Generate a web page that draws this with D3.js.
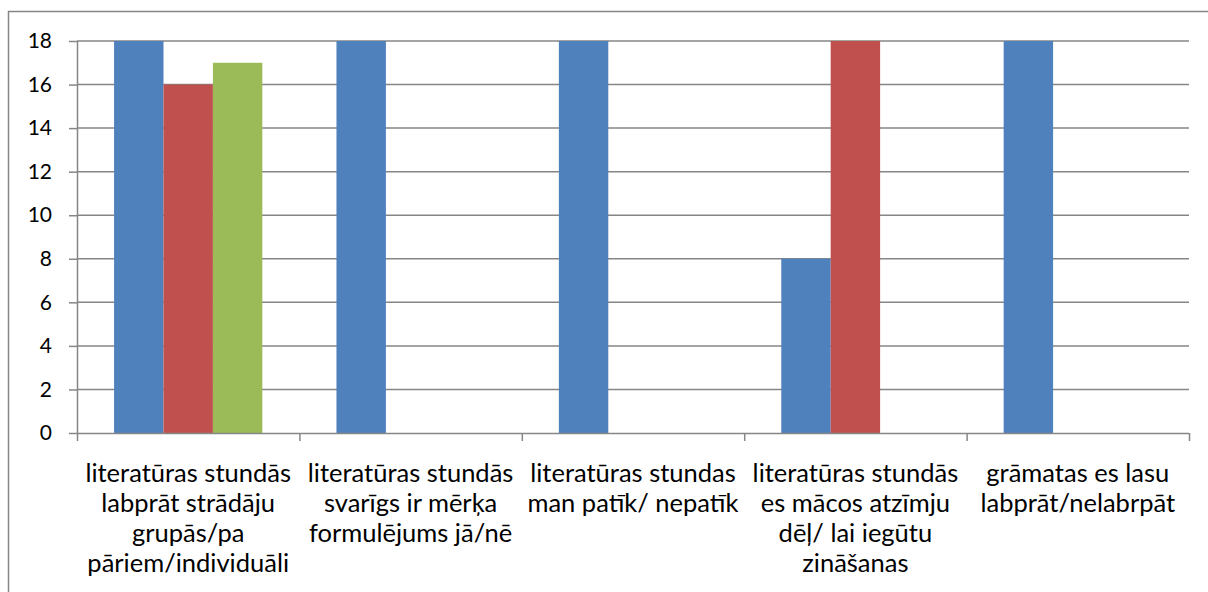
<!DOCTYPE html>
<html>
<head>
<meta charset="utf-8">
<script src="https://d3js.org/d3.v7.min.js"></script>
<style>
  body { margin: 0; background: #fff; }
  svg { display: block; }
  .tick text { font-family: Lato, "Noto Sans", sans-serif; fill: #000; }
  .cat { font-family: Lato, "Noto Sans", sans-serif; font-size: 25.5px; fill: #000; }
</style>
</head>
<body>
<div id="chart"></div>
<script>
  // data
  var categories = [
    ["literatūras stundās", "labprāt strādāju", "grupās/pa", "pāriem/individuāli"],
    ["literatūras stundās", "svarīgs ir mērķa", "formulējums jā/nē"],
    ["literatūras stundas", "man patīk/ nepatīk"],
    ["literatūras stundās", "es mācos atzīmju", "dēļ/ lai iegūtu", "zināšanas"],
    ["grāmatas es lasu", "labprāt/nelabrpāt"]
  ];
  var series1 = [18, 18, 18, 8, 18];
  var series2 = [16, 0, 0, 18, 0];
  var series3 = [17, 0, 0, 0, 0];
  var seriesColors = ["#4F81BD", "#C0504D", "#9BBB59"];
  var yTicks = [0, 2, 4, 6, 8, 10, 12, 14, 16, 18];

  var W = 1208, H = 592;
  var margin = { top: 41, right: 19, bottom: 159, left: 77 };
  var width = W - margin.left - margin.right;
  var height = H - margin.top - margin.bottom;

  var svg = d3.select("#chart").append("svg")
    .attr("width", W).attr("height", H);

  // outer chart border (cut by the window on right and bottom)
  svg.append("path")
    .attr("d", "M8.5," + H + "V11.5H" + W)
    .attr("fill", "none").attr("stroke", "#868686").attr("stroke-width", 1.5);

  var g = svg.append("g").attr("transform", "translate(" + margin.left + "," + margin.top + ")");

  var idx = d3.range(categories.length);
  var x0 = d3.scaleBand().domain(idx).range([0, width]).paddingInner(0).paddingOuter(0);
  var x1 = d3.scaleBand().domain([0, 1, 2])
    .range([x0.bandwidth() * 1.5 / 9, x0.bandwidth() * 7.5 / 9]);
  var y = d3.scaleLinear().domain([0, 18]).range([height, 0]);

  // gridlines
  g.append("g").selectAll("line").data(yTicks.slice(1)).join("line")
    .attr("x1", 0).attr("x2", width)
    .attr("y1", function(d) { return y(d); }).attr("y2", function(d) { return y(d); })
    .attr("stroke", "#868686").attr("stroke-width", 1.5);

  // bars
  var allSeries = [series1, series2, series3];
  g.append("defs").append("clipPath").attr("id", "plot")
    .append("rect").attr("width", width).attr("height", height);
  var bars = g.append("g").attr("clip-path", "url(#plot)");
  allSeries.forEach(function(s, si) {
    bars.selectAll(".s" + si).data(s).join("rect")
      .attr("class", "s" + si)
      .attr("x", function(d, i) { return x0(i) + x1(si); })
      .attr("width", x1.bandwidth())
      .attr("y", function(d) { return y(d); })
      .attr("height", function(d) { return height - y(d); })
      .attr("fill", seriesColors[si]);
  });

  // y axis
  var yAxis = d3.axisLeft(y).tickValues(yTicks).tickSize(8).tickPadding(17);
  var gy = g.append("g").call(yAxis);
  gy.select(".domain").attr("stroke", "#868686").attr("stroke-width", 1.5).attr("d", "M0.5," + height + "V0");
  gy.selectAll(".tick line").attr("stroke", "#868686").attr("stroke-width", 1.5);
  gy.selectAll(".tick text").attr("font-size", "21px");

  // x axis baseline and category separators
  var xAxis = d3.axisBottom(d3.scaleLinear().domain([0, categories.length]).range([0, width]))
    .tickValues(d3.range(categories.length + 1)).tickSize(8).tickFormat("");
  var gx = g.append("g").attr("transform", "translate(0," + height + ")").call(xAxis);
  gx.select(".domain").attr("stroke", "#868686").attr("stroke-width", 1.5).attr("d", "M0," + 0.5 + "H" + width);
  gx.selectAll(".tick line").attr("stroke", "#868686").attr("stroke-width", 1.5);

  // category labels
  idx.forEach(function(i) {
    var t = g.append("text").attr("class", "cat")
      .attr("text-anchor", "middle")
      .attr("x", x0(i) + x0.bandwidth() / 2)
      .attr("y", height + 49);
    categories[i].forEach(function(line, li) {
      t.append("tspan").attr("x", x0(i) + x0.bandwidth() / 2)
        .attr("dy", li === 0 ? 0 : 30).text(line);
    });
  });
</script>
</body>
</html>
